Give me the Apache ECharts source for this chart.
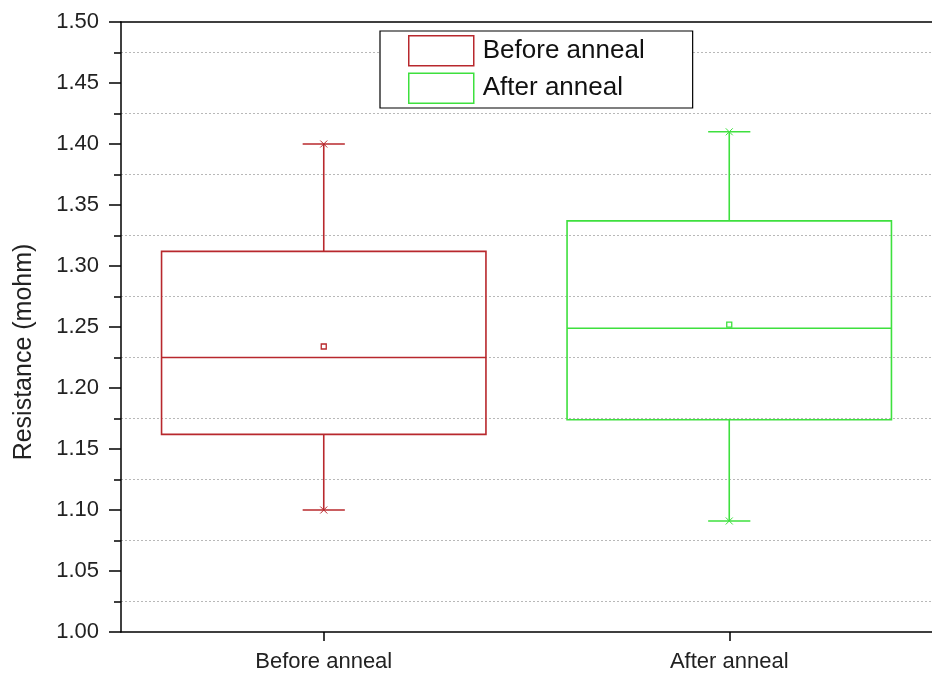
<!DOCTYPE html>
<html>
<head>
<meta charset="utf-8">
<script src="https://cdn.jsdelivr.net/npm/echarts@6/dist/echarts.min.js"></script>
<style>html,body{margin:0;padding:0;background:#fff;}#c{width:932px;height:677px;}</style>
</head>
<body>
<div id="c"></div>
<script>
var categories = ['Before anneal', 'After anneal'];
var seriesNames = ['Before anneal', 'After anneal'];
// [low whisker, Q1, median, Q3, high whisker, mean]
var beforeStats = [1.100, 1.162, 1.225, 1.312, 1.400, 1.234];
var afterStats = [1.091, 1.174, 1.249, 1.337, 1.410, 1.252];
var yTicks = ['1.00','1.05','1.10','1.15','1.20','1.25','1.30','1.35','1.40','1.45','1.50'];

var colors = ['#b8282d', '#3ee03e'];

function makeRender(color) {
  return function (params, api) {
    var c = api.value(0);
    var low = api.coord([c, api.value(1)]);
    var q1 = api.coord([c, api.value(2)]);
    var med = api.coord([c, api.value(3)]);
    var q3 = api.coord([c, api.value(4)]);
    var high = api.coord([c, api.value(5)]);
    var mean = api.coord([c, api.value(6)]);
    var bw = api.size([1, 0])[0];
    var half = bw * 0.4;
    var cap = bw * 0.052;
    var x = low[0];
    var st = {stroke: color, lineWidth: 1.6, fill: null};
    var m = 3.5;
    var children = [
      {type: 'line', shape: {x1: x, y1: q3[1], x2: x, y2: high[1]}, style: st},
      {type: 'line', shape: {x1: x, y1: q1[1], x2: x, y2: low[1]}, style: st},
      {type: 'line', shape: {x1: x - cap, y1: high[1], x2: x + cap, y2: high[1]}, style: st},
      {type: 'line', shape: {x1: x - cap, y1: low[1], x2: x + cap, y2: low[1]}, style: st},
      {type: 'line', shape: {x1: x - m, y1: high[1] - m, x2: x + m, y2: high[1] + m}, style: {stroke: color, lineWidth: 1}},
      {type: 'line', shape: {x1: x - m, y1: high[1] + m, x2: x + m, y2: high[1] - m}, style: {stroke: color, lineWidth: 1}},
      {type: 'line', shape: {x1: x - m, y1: low[1] - m, x2: x + m, y2: low[1] + m}, style: {stroke: color, lineWidth: 1}},
      {type: 'line', shape: {x1: x - m, y1: low[1] + m, x2: x + m, y2: low[1] - m}, style: {stroke: color, lineWidth: 1}},
      {type: 'rect', shape: {x: x - half, y: q3[1], width: 2 * half, height: q1[1] - q3[1]}, style: {stroke: color, lineWidth: 1.6, fill: null}},
      {type: 'line', shape: {x1: x - half, y1: med[1], x2: x + half, y2: med[1]}, style: st},
      {type: 'rect', shape: {x: mean[0] - 2.5, y: mean[1] - 2.5, width: 5, height: 5}, style: {stroke: color, lineWidth: 1.3, fill: '#fff'}}
    ];
    return {type: 'group', children: children};
  };
}

var chart = echarts.init(document.getElementById('c'));
chart.setOption({
  animation: false,
  backgroundColor: '#fff',
  grid: {left: 121, width: 820, top: 22, height: 610},
  legend: {
    show: true,
    orient: 'vertical',
    left: 380, top: 31,
    data: seriesNames.map(function (n, i) {
      return {name: n, icon: 'rect', itemStyle: {color: '#fff', borderColor: colors[i], borderWidth: 1.5}};
    }),
    itemWidth: 65, itemHeight: 30,
    itemGap: 6,
    padding: [4, 48, 4, 28],
    borderColor: '#000', borderWidth: 1.2,
    backgroundColor: '#fff',
    textStyle: {fontFamily: 'Liberation Sans', fontSize: 26, color: '#111', padding: [0, 0, 0, 4]}
  },
  xAxis: [{
    type: 'category',
    data: categories,
    position: 'bottom',
    axisLine: {lineStyle: {color: '#000', width: 1.5}},
    axisTick: {show: true, alignWithLabel: true, length: 9, inside: false, lineStyle: {color: '#000', width: 1.5}},
    axisLabel: {fontFamily: 'Liberation Sans', fontSize: 22, color: '#222', margin: 19},
    splitLine: {show: false}
  }, {
    type: 'category',
    data: categories,
    position: 'top',
    axisLine: {lineStyle: {color: '#000', width: 1.5}},
    axisTick: {show: false},
    axisLabel: {show: false}
  }],
  yAxis: {
    type: 'value',
    min: 1.00, max: 1.50, interval: 0.05,
    name: 'Resistance (mohm)',
    nameLocation: 'middle',
    nameGap: 84,
    nameRotate: 90,
    nameTextStyle: {fontFamily: 'Liberation Sans', fontSize: 25, color: '#222', padding: [0, 50, 0, 0]},
    axisLine: {show: true, lineStyle: {color: '#000', width: 1.5}},
    axisTick: {show: true, length: 12, lineStyle: {color: '#000', width: 1.5}},
    minorTick: {show: true, splitNumber: 2, length: 7, lineStyle: {color: '#000', width: 1.5}},
    splitLine: {show: false},
    minorSplitLine: {show: true, lineStyle: {color: '#b8b8b8', type: [2, 2], width: 1}},
    axisLabel: {
      fontFamily: 'Liberation Sans', fontSize: 22, color: '#222', margin: 22,
      formatter: function (v) { var i = Math.round((v - 1) / 0.05); return yTicks[i] !== undefined ? yTicks[i] : v.toFixed(2); }
    }
  },
  series: [
    {
      name: seriesNames[0], type: 'custom', xAxisIndex: 0,
      renderItem: makeRender(colors[0]),
      encode: {x: 0, y: [1, 2, 3, 4, 5, 6]},
      data: [[0].concat(beforeStats)],
      itemStyle: {color: colors[0]}
    },
    {
      name: seriesNames[1], type: 'custom', xAxisIndex: 0,
      renderItem: makeRender(colors[1]),
      encode: {x: 0, y: [1, 2, 3, 4, 5, 6]},
      data: [[1].concat(afterStats)],
      itemStyle: {color: colors[1]}
    }
  ]
});
</script>
</body>
</html>
